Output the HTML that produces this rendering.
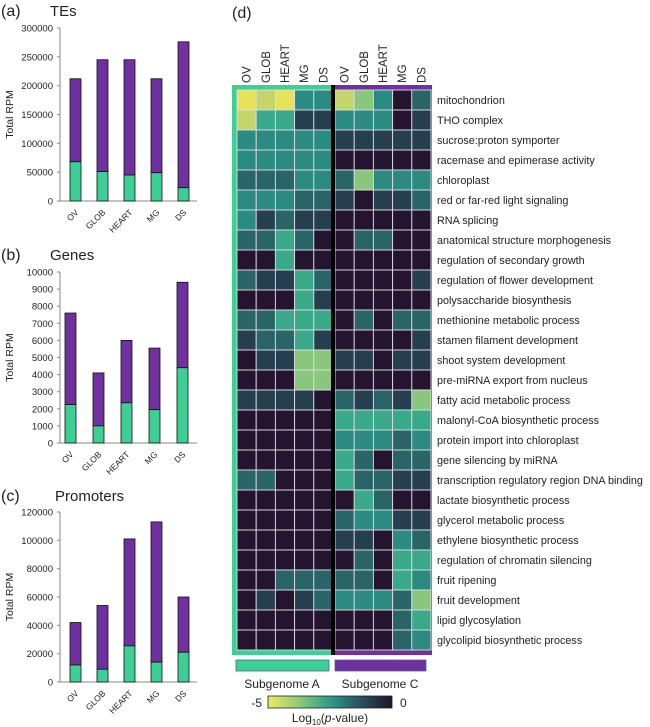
<!DOCTYPE html><html><head><style>body{margin:0;background:#fff}svg{display:block;font-family:"Liberation Sans",sans-serif}</style></head><body>
<svg id="s" width="650" height="727" viewBox="0 0 650 727" xmlns="http://www.w3.org/2000/svg"></svg>
<script>
const s=document.getElementById('s');let h='';
const G='#3ecf95',P='#7030a0';
function panel(lab,title,ly,ty,top,zero,max,step,vals,bx){
 h+=`<text x="1" y="${ly}" font-size="16" fill="#222">${lab}</text><text x="${lab=='(c)'?55:50}" y="${ty}" font-size="15" fill="#222">${title}</text>`;
 h+=`<line x1="60" y1="${top}" x2="60" y2="${zero}" stroke="#888"/><line x1="57" y1="${zero}" x2="197" y2="${zero}" stroke="#888"/>`;
 for(let v=0;v<=max;v+=step){const y=zero-(zero-top)*v/max;h+=`<line x1="57" y1="${y}" x2="60" y2="${y}" stroke="#888"/><text x="53" y="${y+3.5}" font-size="9.5" text-anchor="end" fill="#222">${v}</text>`;}
 h+=`<text transform="translate(13,${(top+zero)/2}) rotate(-90)" font-size="10.5" text-anchor="middle" fill="#222">Total RPM</text>`;
 const names=['OV','GLOB','HEART','MG','DS'];
 vals.forEach((v,i)=>{const x=bx[i],yg=zero-(zero-top)*v[0]/max,yt=zero-(zero-top)*v[1]/max;
 h+=`<rect x="${x}" y="${yt}" width="11" height="${yg-yt}" fill="${P}" stroke="#111" stroke-width="0.8"/><rect x="${x}" y="${yg}" width="11" height="${zero-yg}" fill="${G}" stroke="#111" stroke-width="0.8"/>`;
 h+=`<text transform="translate(${x+9},${zero+12}) rotate(-45)" font-size="8.5" text-anchor="end" fill="#222">${names[i]}</text>`;});
}
const bxa=[70,97,124,151,178],bxb=[65,93,121,149,177];
panel('(a)','TEs',16,16,28,201,300000,50000,[[68000,212000],[51000,245000],[45000,245000],[49000,212000],[23000,276000]],bxa);
panel('(b)','Genes',260,260,272,443,10000,1000,[[2250,7600],[1000,4100],[2350,6000],[1950,5550],[4400,9400]],bxb);
panel('(c)','Promoters',501,501,512,682,120000,20000,[[12000,42000],[9000,54000],[25500,101000],[14000,113000],[21000,60000]],bxa);
h+=`<text x="232" y="18" font-size="16" fill="#222">(d)</text>`;
const C={Y:'#e6e25a',y:'#c4d56c',L:'#88c77c',G:'#3aa98a',T:'#2b8a81',t:'#296468',D:'#263f50',K:'#25142f'};
const rows=[
['mitochondrion','YyYTT','yLTKt'],['THO complex','yGGDD','TTTKD'],['sucrose:proton symporter','TTTTT','DDDDD'],['racemase and epimerase activity','TTTTT','KKKKK'],
['chloroplast','tttTT','tLTTT'],['red or far-red light signaling','TTTtt','DKDDt'],['RNA splicing','TDtDD','KKKKK'],['anatomical structure morphogenesis','ttGtK','KttKK'],
['regulation of secondary growth','KKGKK','KKKKK'],['regulation of flower development','tDDGt','KKKKD'],['polysaccharide biosynthesis','KKKGD','KKKKK'],['methionine metabolic process','ttGGG','KtKtt'],
['stamen filament development','DttGD','KKKKD'],['shoot system development','KDDLL','DDKDD'],['pre-miRNA export from nucleus','KKKLL','KKKKK'],['fatty acid metabolic process','DDDDK','tDtDL'],
['malonyl-CoA biosynthetic process','KKKKK','GGGGG'],['protein import into chloroplast','KKKKK','TTTtT'],['gene silencing by miRNA','KKKKK','GtKtt'],['transcription regulatory region DNA binding','ttKKK','GttDD'],
['lactate biosynthetic process','KKKKK','KGtKK'],['glycerol metabolic process','KKKKK','tTTDD'],['ethylene biosynthetic process','KKKKK','DDKTt'],['regulation of chromatin silencing','KKKKK','KtKGG'],
['fruit ripening','KKttt','ttKGT'],['fruit development','KDKDt','TTTtL'],['lipid glycosylation','KKKKK','KKKtG'],['glycolipid biosynthetic process','KKKKK','KKKtT']];
h+=`<rect x="232" y="85" width="100" height="570" fill="${G}"/><rect x="331" y="85" width="101" height="570" fill="${P}"/>`;
const X0=237,XR=335,W=19.2,Y0=90,RH=20;
rows.forEach((r,i)=>{const y=Y0+i*RH;
 for(let j=0;j<5;j++){h+=`<rect x="${X0+j*W}" y="${y}" width="${W}" height="${RH}" fill="${C[r[1][j]]}" stroke="#ddd" stroke-width="0.9"/>`;
 h+=`<rect x="${XR+j*W}" y="${y}" width="${W}" height="${RH}" fill="${C[r[2][j]]}" stroke="#ddd" stroke-width="0.9"/>`;}
 h+=`<text x="437" y="${y+14}" font-size="10.8" fill="#222">${r[0]}</text>`;});
h+=`<rect x="331" y="85" width="4" height="570" fill="#000"/>`;
['OV','GLOB','HEART','MG','DS'].forEach((n,j)=>{[X0,XR].forEach(b=>{h+=`<text transform="translate(${b+j*W+W/2+4},83) rotate(-90)" font-size="11.5" fill="#222">${n}</text>`;});});
h+=`<rect x="236" y="660" width="93" height="11" fill="${G}" stroke="#4a6a8a" stroke-width="0.8"/><rect x="335" y="660" width="91" height="11" fill="${P}" stroke="#4a6a8a" stroke-width="0.8"/>`;
h+=`<text x="282" y="688" font-size="12" text-anchor="middle" fill="#222">Subgenome A</text><text x="380" y="688" font-size="12" text-anchor="middle" fill="#222">Subgenome C</text>`;
h+=`<defs><linearGradient id="cb"><stop offset="0" stop-color="#f0e860"/><stop offset="0.25" stop-color="#8fca78"/><stop offset="0.5" stop-color="#2f9a88"/><stop offset="0.75" stop-color="#295060"/><stop offset="1" stop-color="#1e1428"/></linearGradient></defs>`;
h+=`<rect x="268" y="696" width="124" height="12" fill="url(#cb)" stroke="#222" stroke-width="0.8"/>`;
h+=`<text x="262" y="707" font-size="12" text-anchor="end" fill="#222">-5</text><text x="400" y="707" font-size="12" fill="#222">0</text>`;
h+=`<text x="330" y="722" font-size="12" text-anchor="middle" fill="#222">Log<tspan font-size="8" dy="3">10</tspan><tspan dy="-3">(</tspan><tspan font-style="italic">p</tspan>-value)</text>`;
s.innerHTML=h;
</script></body></html>
